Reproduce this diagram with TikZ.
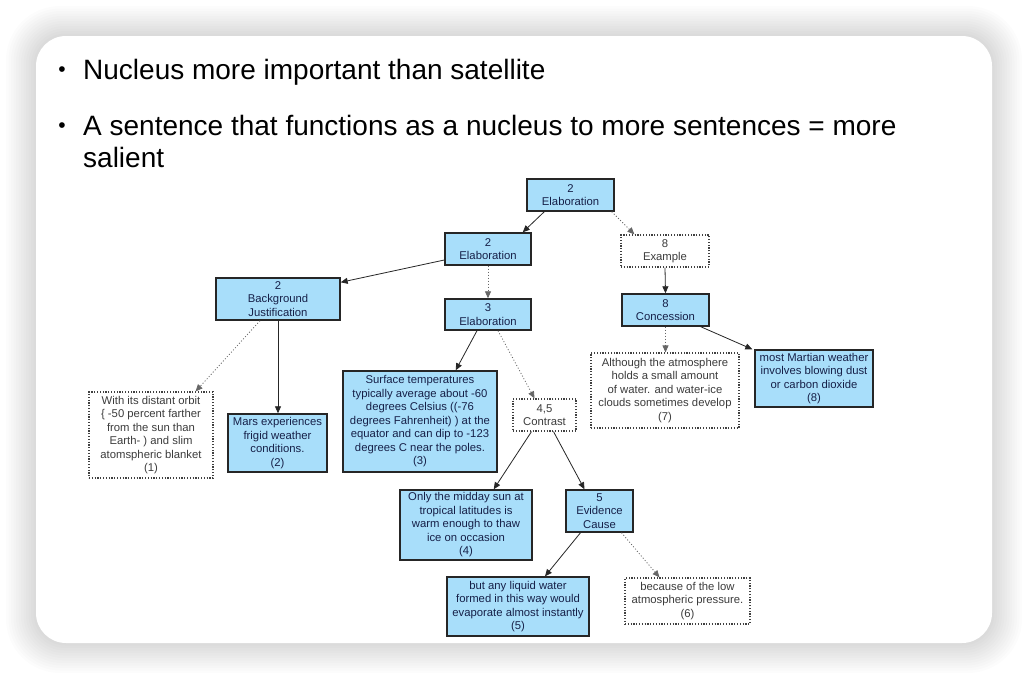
\documentclass[tikz,border=0pt]{standalone}
\usepackage{fontspec}
\setmainfont{Liberation Sans}
\usepackage{tikz}
\usetikzlibrary{arrows.meta, positioning, calc}
\usepackage{xcolor}
\definecolor{boxblue}{RGB}{168,222,250}
\definecolor{navytext}{RGB}{22,32,72}
\definecolor{sattext}{RGB}{60,60,60}

\begin{document}
\begin{tikzpicture}[
  x=1pt, y=-1pt,
  nuc/.style={draw=black!85, line width=1.4pt, fill=boxblue, text=navytext,
              align=center, inner sep=0pt, font=\fontsize{11.3}{13.5}\selectfont},
  sat/.style={draw=black!75, line width=1.2pt, dash pattern=on 1.2pt off 1.6pt,
              fill=white, text=sattext, align=center, inner sep=0pt,
              font=\fontsize{11.3}{13.5}\selectfont},
  arrow/.style={-{Triangle[length=7pt, width=6pt]}, line width=0.8pt, black!85},
  satarrow/.style={arrow, dash pattern=on 1pt off 2pt, black!60},
  bullet/.style={anchor=base west, inner sep=0pt, font=\fontsize{28}{32}\selectfont}
]
  % Card with shadow
  \useasboundingbox (0,0) rectangle (1028,680);
  \fill[white] (0,0) rectangle (1028,680);
  \foreach \i in {1,...,12}
    \fill[black, opacity=0.011, rounded corners=30+2*\i]
      (36-2.5*\i,36-2.5*\i) rectangle (992+2.5*\i,643+2.5*\i);
  \fill[white, rounded corners=30] (36,36) rectangle (992,643);

  % Bullets
  \node[bullet] (b1) at (83,79) {Nucleus more important than satellite};
  \node[bullet] (b2) at (83,135) {A sentence that functions as a nucleus to more sentences = more};
  \node[bullet] (b3) at (83,167) {salient};
  \node[bullet, anchor=base, font=\fontsize{21}{24}\selectfont] (d1) at (62,76) {•};
  \node[bullet, anchor=base, font=\fontsize{21}{24}\selectfont] (d2) at (62,132) {•};

  % Nodes
  \node[nuc, minimum width=87pt, minimum height=32pt] (top) at (570.5,195) {2\\Elaboration};
  \node[nuc, minimum width=86pt, minimum height=32pt] (elabA) at (488,249) {2\\Elaboration};
  \node[nuc, minimum width=124pt, minimum height=42pt] (bgjust) at (278,299) {2\\Background\\Justification};
  \node[nuc, minimum width=86pt, minimum height=31pt] (elabB) at (488,314.5) {3\\Elaboration};
  \node[sat, minimum width=88pt, minimum height=32pt] (example) at (665,251) {8\\Example};
  \node[nuc, minimum width=87pt, minimum height=32pt] (concession) at (665.5,310) {8\\Concession};
  \node[sat, minimum width=148pt, minimum height=75pt] (s7) at (665,390.5)
    {Although the atmosphere\\holds a small amount\\of water. and water-ice\\clouds sometimes develop\\(7)};
  \node[nuc, minimum width=118pt, minimum height=57pt] (s8) at (814,378.5)
    {most Martian weather\\involves blowing dust\\or carbon dioxide\\(8)};
  \node[sat, minimum width=124pt, minimum height=86pt] (s1) at (151,435)
    {With its distant orbit\\\{ -50 percent farther\\from the sun than\\Earth- ) and slim\\atomspheric blanket\\(1)};
  \node[nuc, minimum width=99pt, minimum height=58pt] (s2) at (277.5,443)
    {Mars experiences\\frigid weather\\conditions.\\(2)};
  \node[nuc, minimum width=154pt, minimum height=101pt] (s3) at (420,421.5)
    {Surface temperatures\\typically average about -60\\degrees Celsius ((-76\\degrees Fahrenheit) ) at the\\equator and can dip to -123\\degrees C near the poles.\\(3)};
  \node[sat, minimum width=63pt, minimum height=32pt] (contrast) at (544.5,415) {4,5\\Contrast};
  \node[nuc, minimum width=132pt, minimum height=70pt] (s4) at (466,525)
    {Only the midday sun at\\tropical latitudes is\\warm enough to thaw\\ice on occasion\\(4)};
  \node[nuc, minimum width=67pt, minimum height=42pt] (evid) at (599.5,511) {5\\Evidence\\Cause};
  \node[nuc, minimum width=142pt, minimum height=59pt] (s5) at (518,606.5)
    {but any liquid water\\formed in this way would\\evaporate almost instantly\\(5)};
  \node[sat, minimum width=125pt, minimum height=46pt] (s6) at (687.5,601)
    {because of the low\\atmospheric pressure.\\(6)};

  % Arrows
  \draw[arrow] ([xshift=18pt]top.south west) -- ([xshift=-9pt]elabA.north east);
  \draw[satarrow] ([xshift=-3pt]top.south east) -- ([xshift=14pt]example.north west);
  \draw[arrow] ([yshift=-11pt]elabA.west) -- ([yshift=-5pt]bgjust.north east);
  \draw[satarrow] (elabA.south) -- (elabB.north);
  \draw[satarrow] ([xshift=-18pt]bgjust.south) -- ([xshift=-18pt]s1.north east);
  \draw[arrow] (bgjust.south) -- (bgjust.south |- s2.north);
  \draw[arrow] ([xshift=-11pt]elabB.south) -- ([xshift=-42pt]s3.north east);
  \draw[satarrow] ([xshift=10pt]elabB.south) -- ([xshift=-10pt]contrast.north);
  \draw[arrow] ([xshift=-13pt]contrast.south) -- ([xshift=-39pt]s4.north east);
  \draw[arrow] ([xshift=9pt]contrast.south) -- ([xshift=-15pt]evid.north);
  \draw[arrow] ([xshift=-19pt]evid.south) -- ([xshift=27pt]s5.north);
  \draw[satarrow] ([xshift=22pt]evid.south) -- ([xshift=-28pt]s6.north);
  \draw[arrow] (example.south) -- (concession.north);
  \draw[satarrow] (concession.south) -- (concession.south |- s7.north);
  \draw[arrow] ([xshift=-9pt]concession.south east) -- ([xshift=-2pt]s8.north west);
\end{tikzpicture}
\end{document}
